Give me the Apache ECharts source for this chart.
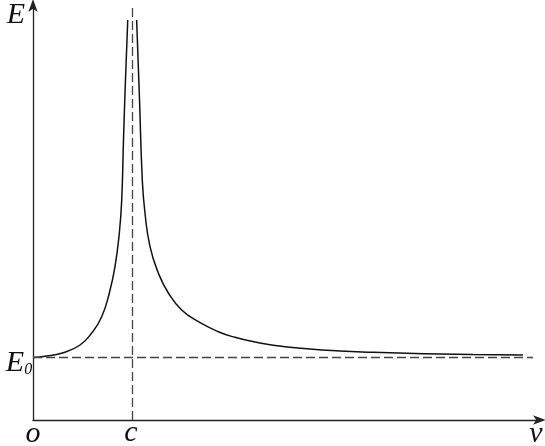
<!DOCTYPE html>
<html><head><meta charset="utf-8">
<script src="https://cdn.jsdelivr.net/npm/echarts@6/dist/echarts.min.js"></script>
<style>html,body{margin:0;padding:0;background:#fff}#c{width:545px;height:446px}</style>
</head><body><div id="c"></div>
<script>
// v in units of c, E in units of E0
const leftBranch = [[0,1.0],[0.138,1.024],[0.306,1.077],[0.475,1.2],[0.593,1.392],[0.694,1.653],[0.771,2.032],[0.828,2.453],[0.872,2.992],[0.896,3.52],[0.914,4.48],[0.934,5.44],[0.957,6.4]];
const rightBranch = [[1.047,6.4],[1.076,5.12],[1.104,3.84],[1.131,3.312],[1.182,2.773],[1.266,2.352],[1.367,2.032],[1.502,1.76],[1.670,1.573],[1.872,1.413],[2.040,1.323],[2.242,1.248],[2.427,1.197],[2.765,1.141],[3.101,1.104],[3.434,1.083],[3.775,1.067],[4.111,1.056],[4.444,1.049],[4.949,1.04]];
const E0 = 1, C = 1;
const xMax = 5.121, yMax = 6.64;
const hLineEnd = 5.05, vLineTop = 6.6;
const labels = {origin:'o', c:'c', v:'v', E:'E'};

const chart = echarts.init(document.getElementById('c'), null, {renderer:'canvas'});
const fam = 'Liberation Serif';
const axisCommon = {
  type:'value', axisTick:{show:false}, axisLabel:{show:false}, splitLine:{show:false},
  axisLine:{show:true, symbol:['none','arrow'], symbolSize:[7,13], symbolOffset:[0,6], lineStyle:{color:'#222', width:1.3}}
};
chart.setOption({
  animation:false,
  grid:{left:33, right:5, top:5, bottom:26, containLabel:false},
  xAxis:Object.assign({}, axisCommon, {min:0, max:xMax}),
  yAxis:Object.assign({}, axisCommon, {min:0, max:yMax}),
  series:[
    {type:'line', data:leftBranch, smooth:0.5, showSymbol:false, lineStyle:{color:'#111', width:1.5},
     markLine:{silent:true, symbol:'none', label:{show:false},
       lineStyle:{color:'#444', width:1.3, type:[9,4]},
       data:[[{coord:[0,E0]},{coord:[hLineEnd,E0]}],[{coord:[C,0]},{coord:[C,vLineTop]}]]}},
    {type:'line', data:rightBranch, smooth:0.5, showSymbol:false, lineStyle:{color:'#111', width:1.5}}
  ]
});
const o = chart.convertToPixel({gridIndex:0},[0,0]);
const pc = chart.convertToPixel({gridIndex:0},[C,0]);
const pv = chart.convertToPixel({gridIndex:0},[xMax,0]);
const pe = chart.convertToPixel({gridIndex:0},[0,yMax]);
const pe0 = chart.convertToPixel({gridIndex:0},[0,E0]);
const base = {fontFamily:fam, fontStyle:'italic', fontSize:30, fill:'#111', align:'center', verticalAlign:'middle'};
const ts = (t, x, y) => ({type:'text', x:x, y:y, style:Object.assign({text:t}, base)});
chart.setOption({graphic:[
  ts(labels.origin, o[0], o[1]+14),
  ts(labels.c, pc[0]-1, pc[1]+13),
  ts(labels.v, pv[0]-4, pv[1]+14),
  ts(labels.E, pe[0]-17, pe[1]+10),
  {type:'text', x:pe0[0]-14, y:pe0[1]+6, style:{text:'{a|E}{b|0}', align:'center', verticalAlign:'middle', fill:'#111',
    rich:{a:{fontFamily:fam, fontStyle:'italic', fontSize:30, fill:'#111'}, b:{fontFamily:fam, fontStyle:'italic', fontSize:16, fill:'#111', padding:[12,0,0,0]}}}}
]});
</script></body></html>
